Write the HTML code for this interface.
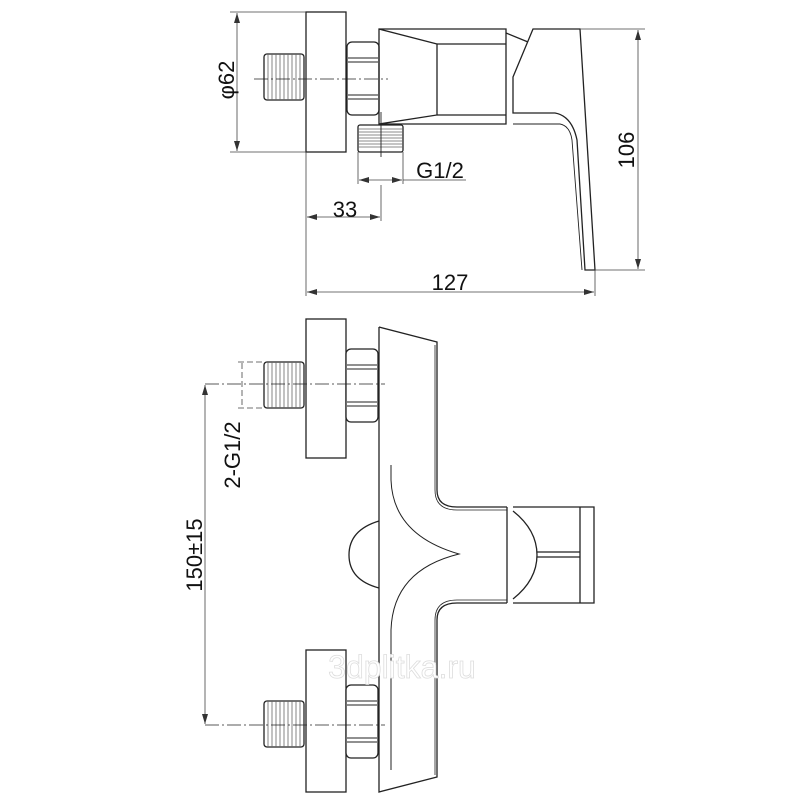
<!DOCTYPE html>
<html><head><meta charset="utf-8"><style>
html,body{margin:0;padding:0;background:#fff}
svg{display:block}
text{font-family:"Liberation Sans",Arial,sans-serif;fill:#111}
</style></head><body>
<svg width="800" height="800" viewBox="0 0 800 800" xmlns="http://www.w3.org/2000/svg">
<defs>
<g id="thrH">
 <rect x="0" y="0" width="40" height="46" rx="3" fill="none" stroke="#222" stroke-width="1.3"/>
 <path d="M4 0V46M8 0V46M12 0V46M16 0V46M20 0V46M24 0V46M28 0V46M32 0V46M36 0V46" stroke="#666" stroke-width="0.8"/>
</g>
<g id="nut">
 <rect x="0" y="0" width="32" height="73" rx="5" fill="#fff" stroke="#222" stroke-width="1.3"/>
 <path d="M1 16H31M1 20H31M1 53H31M1 57H31" stroke="#222" stroke-width="1"/>
</g>
<marker id="ar" viewBox="0 0 10 6" refX="10" refY="3" markerWidth="10" markerHeight="6" orient="auto-start-reverse" markerUnits="userSpaceOnUse">
 <path d="M0 0L10 3L0 6Z" fill="#333"/>
</marker>
</defs>
<g fill="none" stroke="#222" stroke-width="1.3">
<!-- TOP VIEW -->
<rect x="306" y="12" width="40" height="140"/>
<use href="#thrH" x="264" y="54"/>
<use href="#nut" x="347" y="42"/>
<line x1="254" y1="79" x2="388" y2="79" stroke-dasharray="14 3 2 3" stroke-width="0.8"/>
<path d="M379 29H506V124H379Z"/>
<path d="M379 29L437 44V115L379 124"/>
<path d="M437 44H506M437 115H506"/>
<path d="M506 33L528 42"/>
<g transform="translate(358,125)">
<rect x="0" y="0" width="45" height="27" rx="2"/>
<path d="M0 4H45M0 7H45M0 10H45M0 13H45M0 16H45M0 19H45M0 22H45" stroke="#666" stroke-width="0.8"/>
</g>
<line x1="381" y1="112" x2="381" y2="157" stroke-width="0.9"/>
<path d="M533 29H580L595 270H585L577 140Q572 116 555 113H513V77Z"/>
<path d="M513 124H560Q570 126 572 140L582 270" stroke-width="0.9"/>
<g stroke-width="0.8" stroke="#444">
<path d="M230 12H306M230 152H306"/>
<path d="M237 13V151" marker-start="url(#ar)" marker-end="url(#ar)"/>
<path d="M580 29H645M595 270H645"/>
<path d="M638 30V269" marker-start="url(#ar)" marker-end="url(#ar)"/>
<path d="M306 152V296M595 270V296"/>
<path d="M307 292H594" marker-start="url(#ar)" marker-end="url(#ar)"/>
<path d="M381 185V221"/>
<path d="M307 217H380" marker-start="url(#ar)" marker-end="url(#ar)"/>
<path d="M358 152V184M403 152V184M403 180H466"/>
<path d="M359 180H402" marker-start="url(#ar)" marker-end="url(#ar)"/>
</g>
<!-- BOTTOM VIEW -->
<rect x="306" y="319" width="40" height="139"/>
<rect x="306" y="650" width="40" height="142"/>
<use href="#thrH" x="264" y="362"/>
<use href="#thrH" x="264" y="701"/>
<use href="#nut" x="346" y="349"/>
<use href="#nut" x="346" y="685"/>
<line x1="205" y1="384" x2="385" y2="384" stroke-dasharray="14 3 2 3" stroke-width="0.8"/>
<line x1="205" y1="725" x2="385" y2="725" stroke-dasharray="14 3 2 3" stroke-width="0.8"/>
<path d="M379 327L437 342V490Q437 507 457 507H507"/>
<path d="M379 327V792L437 777V620Q437 603 457 603H507"/>
<path d="M435 345V490Q435 510 457 510H507M435 775V620Q435 600 457 600H507" stroke-width="0.8"/>
<path d="M391 465V480Q393 535 459 554Q393 570 391 630V770" stroke-width="1"/>
<path d="M379 521Q349 530 349 555Q349 580 379 588"/>
<path d="M507 507V603"/>
<path d="M513 507H594V603H513M580 507V603"/>
<path d="M513 511Q537 530 537 555Q537 580 513 599"/>
<path d="M537 552H580M537 557H580"/>
<g stroke-width="0.8" stroke="#444">
<path d="M205 385V724" marker-start="url(#ar)" marker-end="url(#ar)"/>
<path d="M238 362H264M238 408H264" stroke-dasharray="6 3"/>
<path d="M242 363V407" stroke-dasharray="6 3"/>
</g>
</g>
<text x="345" y="217" font-size="22" text-anchor="middle">33</text>
<text x="440" y="178" font-size="22" text-anchor="middle">G1/2</text>
<text x="450" y="290" font-size="22" text-anchor="middle">127</text>
<text transform="translate(234,80) rotate(-90)" font-size="22" text-anchor="middle">φ62</text>
<text transform="translate(634,150) rotate(-90)" font-size="22" text-anchor="middle">106</text>
<text transform="translate(240,455) rotate(-90)" font-size="22" text-anchor="middle">2-G1/2</text>
<text transform="translate(202,555) rotate(-90)" font-size="22" text-anchor="middle">150±15</text>
<text x="402" y="678" font-size="32" text-anchor="middle" style="fill:#fff;stroke:#ddd;stroke-width:0.8">3dplitka.ru</text>
</svg>
</body></html>
